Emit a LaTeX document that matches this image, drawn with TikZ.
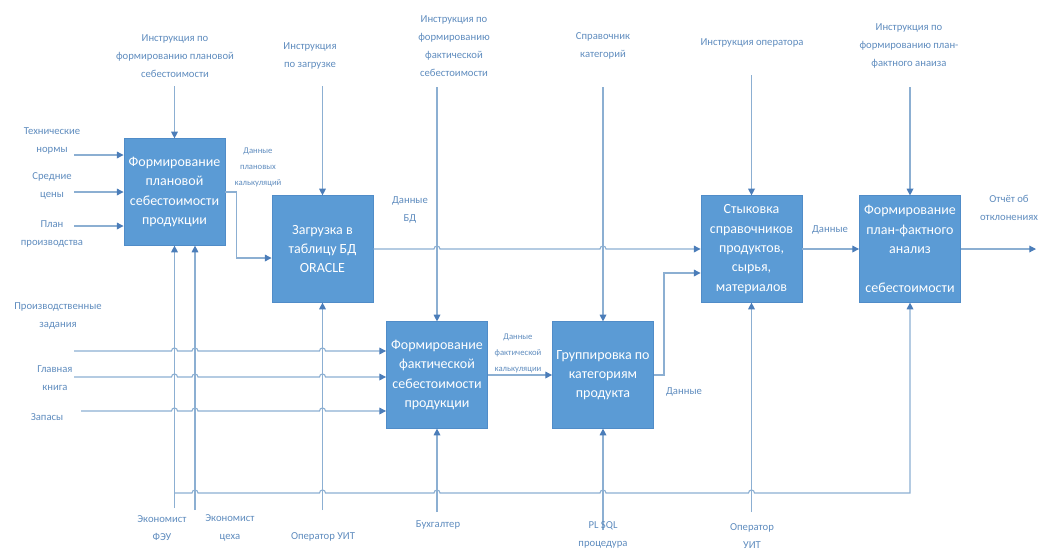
\documentclass[tikz,border=0pt]{standalone}
\usepackage{fontspec}
\setmainfont{Carlito}
\usetikzlibrary{arrows.meta,calc}
\definecolor{boxc}{RGB}{91,155,213}
\definecolor{boxd}{RGB}{80,140,200}
\definecolor{linec}{RGB}{140,175,210}
\definecolor{arrc}{RGB}{75,125,185}
\definecolor{labc}{RGB}{95,140,190}
\begin{document}
\begin{tikzpicture}[x=0.75pt,y=-0.75pt,
  proc/.style={draw=boxd,fill=boxc,text=white,minimum width=76pt,minimum height=80pt,inner sep=2pt,align=center,font=\fontsize{10.5}{14.5}\selectfont},
  lab/.style={text=labc,align=center,inner sep=1pt,font=\fontsize{8}{13.5}\selectfont},
  slab/.style={text=labc,align=center,inner sep=1pt,font=\fontsize{6.5}{12}\selectfont},
  conn/.style={draw=linec,line width=0.85pt},
  arr/.style={conn,-{Triangle[length=5pt,width=5pt,color=arrc]}},
  hop/.style 2 args={insert path={-- (#1-3,#2) arc[start angle=180,end angle=360,radius=3]}}
]
\useasboundingbox (0,0) rectangle (1038,551);

% boxes
\node[proc] (b1) at (174.5,192) {Формирование\\плановой\\себестоимости\\продукции};
\node[proc] (b2) at (322.5,249) {Загрузка в\\таблицу БД\\ORACLE};
\node[proc] (b3) at (437,375) {Формирование\\фактической\\себестоимости\\продукции};
\node[proc] (b4) at (603,375) {Группировка по\\категориям\\продукта};
\node[proc] (b5) at (751.5,249) {Стыковка\\справочников\\продуктов,\\сырья,\\материалов};
\node[proc] (b6) at (910,249) {Формирование\\план-фактного\\анализ\\\mbox{}\\себестоимости};

% free ends
\coordinate (c1) at (174.5,86);
\coordinate (c2) at (322.5,86);
\coordinate (c3) at (437,87);
\coordinate (c4) at (603,87);
\coordinate (c5) at (751.5,75);
\coordinate (c6) at (910,87);
\coordinate (i11) at (74,155);
\coordinate (i12) at (74,192);
\coordinate (i13) at (74,226);
\coordinate (i31) at (74,351);
\coordinate (i32) at (74,377);
\coordinate (i33) at (81,411);
\coordinate (m1a) at (174.5,508);
\coordinate (m1b) at (195,510);
\coordinate (m2) at (322.5,510);
\coordinate (m3) at (437,512);
\coordinate (m4) at (603,530);
\coordinate (m5) at (751.5,512);
\coordinate (j1) at (174.5,493);
\coordinate (o6) at (1036,249);

% controls
\draw[arr] (c1) -- (b1.north);
\draw[arr] (c2) -- (b2.north);
\draw[arr] (c3) -- (b3.north);
\draw[arr] (c4) -- (b4.north);
\draw[arr] (c5) -- (b5.north);
\draw[arr] (c6) -- (b6.north);

% inputs
\draw[arr] (i11) -- (i11 -| b1.west);
\draw[arr] (i12) -- (i12 -| b1.west);
\draw[arr] (i13) -- (i13 -| b1.west);
\draw[arr] (i31) [hop={174.5}{351}] [hop={195}{351}] [hop={322.5}{351}] -- (i31 -| b3.west);
\draw[arr] (i32) [hop={174.5}{377}] [hop={195}{377}] [hop={322.5}{377}] -- (i32 -| b3.west);
\draw[arr] (i33) [hop={174.5}{411}] [hop={195}{411}] [hop={322.5}{411}] -- (i33 -| b3.west);

% mechanisms
\draw[arr] (m1a) -- (b1.south);
\draw[arr] (m1b) -- (m1b |- b1.south);
\draw[arr] (m2) -- (b2.south);
\draw[arr] (m3) -- (b3.south);
\draw[arr] (m4) -- (b4.south);
\draw[arr] (m5) -- (b5.south);
\draw[arr] (j1) [hop={195}{493}] [hop={322.5}{493}] [hop={437}{493}] [hop={603}{493}] [hop={751.5}{493}] -- (b6.south |- j1) -- (b6.south);

% outputs
\draw[arr] (b1.east) -- ++(11,0) |- ($(b2.west)+(0,9)$);
\draw[arr] (b2.east) [hop={437}{249}] [hop={603}{249}] -- (b5.west);
\draw[arr] (b3.east) -- (b4.west);
\draw[arr] (b4.east) -- ++(10,0) |- ($(b5.west)+(0,24)$);
\draw[arr] (b5.east) -- (b6.west);
\draw[arr] (b6.east) -- (o6);

% control labels
\node[lab] (t1) at (175,56) {Инструкция по\\формированию плановой\\себестоимости};
\node[lab] (t2) at (310,56) {Инструкция\\по загрузке};
\node[lab] (t3) at (454,46) {Инструкция по\\формированию\\фактической\\себестоимости};
\node[lab] (t4) at (603,46) {Справочник\\категорий};
\node[lab] (t5) at (752,43) {Инструкция оператора};
\node[lab] (t6) at (909,46) {Инструкция по\\формированию план-\\фактного анаиза};

% input labels
\node[lab] (l11) at (52,141) {Технические\\нормы};
\node[lab] (l12) at (52,186) {Средние\\цены};
\node[lab] (l13) at (52,234) {План\\производства};
\node[lab] (l31) at (58,316) {Производственные\\задания};
\node[lab] (l32) at (55,378) {Главная\\книга};
\node[lab] (l33) at (47,417) {Запасы};

% mechanism labels
\node[lab] (e1) at (162,528) {Экономист\\ФЭУ};
\node[lab] (e2) at (230,528) {Экономист\\цеха};
\node[lab] (e3) at (323,537) {Оператор УИТ};
\node[lab] (e4) at (438,525) {Бухгалтер};
\node[lab] (e5) at (603,535) {PL SQL\\процедура};
\node[lab] (e6) at (752,536) {Оператор\\УИТ};

% data labels
\node[slab] (d1) at (258,167) {Данные\\плановых\\калькуляций};
\node[lab] (d2) at (410,210) {Данные\\БД};
\node[slab] (d3) at (518,353) {Данные\\фактической\\калькуляции};
\node[lab] (d4) at (684,392) {Данные};
\node[lab] (d5) at (830,230) {Данные};
\node[lab] (d6) at (1009,208) {Отчёт об\\отклонениях};
\end{tikzpicture}
\end{document}
